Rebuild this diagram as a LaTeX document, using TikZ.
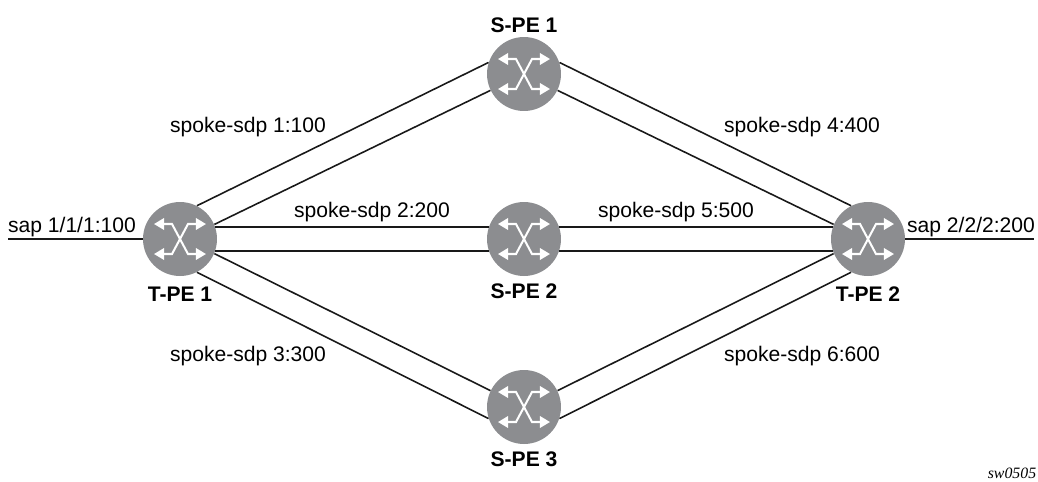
\documentclass[tikz,border=0pt]{standalone}
\usepackage{fontspec}
\setmainfont{Liberation Sans}
\newfontfamily\tagfont{Liberation Serif}
\usetikzlibrary{arrows.meta}
\definecolor{routergray}{HTML}{8C8D90}
\tikzset{
  router/.style={circle,fill=routergray,minimum size=1.48cm,inner sep=0pt},
  routername/.style={font=\fontsize{12}{14}\selectfont\bfseries,inner sep=0pt},
  sdplabel/.style={font=\fontsize{12}{14}\selectfont,inner sep=0pt},
  sdpline/.style={line width=.9pt,black!90},
  crossover/.pic={
    \draw[white,line width=1.15pt,{Triangle[length=5.8pt,width=6.6pt]}-{Triangle[length=5.8pt,width=6.6pt]}]
      (-26,-15) -- (-8,-15) -- (8,15) -- (26,15);
    \draw[white,line width=1.15pt,{Triangle[length=5.8pt,width=6.6pt]}-{Triangle[length=5.8pt,width=6.6pt]}]
      (-26,15) -- (-8,15) -- (8,-15) -- (26,-15);
  }
}
\begin{document}
\begin{tikzpicture}[x=.02cm,y=-.02cm]
    \useasboundingbox (0,0) rectangle (1038,481);

    \node[router] (tpea) at (180,239) {};
    \node[router] (tpeb) at (868,239) {};
    \node[router] (spea) at (524,74) {};
    \node[router] (speb) at (524,239) {};
    \node[router] (spec) at (524,407) {};

    \foreach \where in {tpea,tpeb,spea,speb,spec}
      \pic at (\where) {crossover};

    \node[routername] (tpeaname) at (180,294) {T-PE 1};
    \node[routername] (tpebname) at (868,294) {T-PE 2};
    \node[routername] (speaname) at (524,25) {S-PE 1};
    \node[routername] (spebname) at (524,291) {S-PE 2};
    \node[routername] (specname) at (524,459) {S-PE 3};

    \coordinate (sapa) at (8,239);
    \coordinate (sapb) at (1034,239);
    \draw[sdpline] (sapa) -- (tpea);
    \draw[sdpline] (tpeb) -- (sapb);

    \draw[sdpline] (tpea.63) -- (spea.162);
    \draw[sdpline] (tpea.23) -- (spea.206);
    \draw[sdpline] (tpea.19) -- (speb.161);
    \draw[sdpline] (tpea.-19) -- (speb.-161);
    \draw[sdpline] (tpea.-23) -- (spec.154);
    \draw[sdpline] (tpea.-63) -- (spec.198);

    \draw[sdpline] (spea.18) -- (tpeb.117);
    \draw[sdpline] (spea.-26) -- (tpeb.157);
    \draw[sdpline] (speb.19) -- (tpeb.161);
    \draw[sdpline] (speb.-19) -- (tpeb.-161);
    \draw[sdpline] (spec.26) -- (tpeb.-157);
    \draw[sdpline] (spec.-18) -- (tpeb.-117);

    \node[sdplabel] (sdpa) at (248,127) {spoke-sdp 1:100};
    \node[sdplabel] (sdpb) at (372,212) {spoke-sdp 2:200};
    \node[sdplabel] (sdpc) at (248,356) {spoke-sdp 3:300};
    \node[sdplabel] (sdpd) at (802,127) {spoke-sdp 4:400};
    \node[sdplabel] (sdpe) at (676,212) {spoke-sdp 5:500};
    \node[sdplabel] (sdpf) at (802,356) {spoke-sdp 6:600};
    \node[sdplabel] (sapalabel) at (72,227) {sap 1/1/1:100};
    \node[sdplabel] (sapblabel) at (971,227) {sap 2/2/2:200};

    \node[inner sep=0pt,font=\fontsize{9}{11}\selectfont\tagfont\itshape] (swtag) at (1012,473) {sw0505};
\end{tikzpicture}
\end{document}
